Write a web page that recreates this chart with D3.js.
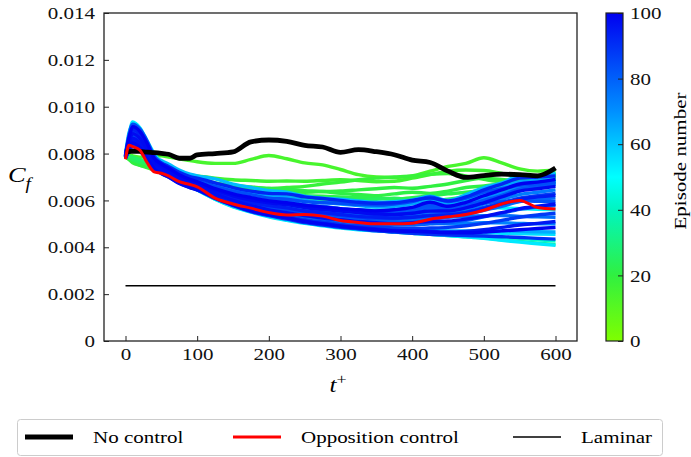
<!DOCTYPE html>
<html lang="en">
<head>
<meta charset="utf-8">
<title>Cf episodes</title>
<script src="https://cdn.jsdelivr.net/npm/d3@7"></script>
<style>
  body { margin: 0; background: #fff; }
</style>
</head>
<body>
<script>
// t+ sample points shared by every curve
var tPlus = [0,5,10,20,30,40,50,60,75,90,100,125,150,175,200,225,250,275,300,325,350,375,400,425,450,475,500,525,550,575,600];

// Cf values, in units of 1e-3
var noControl = [8.07,8.08,8.10,8.09,8.06,8.04,8.01,7.97,7.80,7.80,7.94,8.00,8.07,8.50,8.58,8.52,8.35,8.28,8.05,8.17,8.08,7.95,7.72,7.62,7.25,6.98,7.06,7.12,7.10,7.05,7.38];
var opposition = [7.76,8.35,8.30,8.15,7.62,7.22,7.16,7.05,6.80,6.68,6.58,6.10,5.85,5.67,5.48,5.38,5.40,5.33,5.14,5.06,5.00,5.00,5.03,5.20,5.30,5.40,5.58,5.85,6.00,5.70,5.63];
var laminarCf = 2.36;

var episodeNumbers = [14,16,18,20,21,22,24,26, 28,35,42,48,54, 62,66,70,74,78,80,84,88,90,92,95,98,100, 82,86,94,97,99, 56,65,58,73,77,52,83];
var episodeCf = [
  [7.95,7.95,7.90,7.85,7.85,7.88,7.90,7.85,7.78,7.70,7.65,7.58,7.58,7.75,7.92,7.78,7.60,7.52,7.32,7.10,7.00,6.98,7.05,7.25,7.45,7.58,7.82,7.60,7.35,7.25,7.30],
  [7.90,7.80,7.70,7.55,7.45,7.35,7.28,7.20,7.12,7.08,7.05,6.95,6.88,6.85,6.82,6.83,6.82,6.85,6.88,6.85,6.80,6.82,6.95,7.10,7.25,7.30,7.28,7.15,7.00,6.95,7.05],
  [7.85,7.75,7.65,7.50,7.40,7.30,7.20,7.10,6.95,6.85,6.78,6.70,6.60,6.55,6.50,6.55,6.60,6.70,6.78,6.88,6.95,7.00,7.05,7.12,7.15,7.05,6.90,6.80,6.85,6.95,7.10],
  [7.90,7.75,7.60,7.50,7.45,7.40,7.35,7.30,7.15,7.00,6.92,6.70,6.55,6.45,6.40,6.38,6.35,6.38,6.40,6.45,6.50,6.55,6.52,6.60,6.70,6.85,6.95,6.90,6.85,6.90,7.00],
  [7.95,7.85,7.75,7.60,7.55,7.50,7.45,7.40,7.20,7.05,6.95,6.75,6.65,6.58,6.52,6.48,6.42,6.38,6.30,6.25,6.20,6.28,6.35,6.30,6.40,6.55,6.62,6.70,6.80,6.90,7.05],
  [7.85,7.80,7.72,7.62,7.55,7.45,7.35,7.25,7.05,6.88,6.80,6.60,6.48,6.35,6.25,6.22,6.20,6.18,6.15,6.12,6.10,6.05,6.12,6.20,6.28,6.35,6.45,6.60,6.75,6.95,7.15],
  [7.90,7.82,7.75,7.65,7.55,7.40,7.25,7.12,6.95,6.80,6.70,6.50,6.35,6.25,6.15,6.08,6.02,6.00,5.98,6.00,6.05,6.10,6.00,5.95,6.05,6.15,6.25,6.40,6.55,6.75,6.90],
  [7.95,7.90,7.85,7.75,7.62,7.50,7.38,7.25,7.05,6.88,6.78,6.55,6.40,6.28,6.18,6.12,6.05,5.98,5.92,5.90,5.88,5.95,5.92,5.85,5.95,6.05,6.15,6.30,6.45,6.60,6.80],
  [7.90,8.40,8.60,8.30,7.90,7.55,7.35,7.15,6.90,6.70,6.55,6.25,6.05,5.92,5.82,5.75,5.68,5.62,5.58,5.55,5.50,5.45,5.50,5.55,5.65,5.80,6.00,6.30,6.60,6.90,7.20],
  [7.85,8.70,9.20,8.80,8.30,7.80,7.50,7.25,6.95,6.70,6.50,6.10,5.80,5.55,5.35,5.20,5.05,4.95,4.85,4.78,4.72,4.65,4.60,4.55,4.50,4.45,4.40,4.32,4.25,4.18,4.12],
  [7.80,8.60,9.30,9.00,8.50,7.90,7.55,7.25,6.90,6.62,6.45,6.05,5.75,5.52,5.32,5.18,5.05,4.98,4.90,4.82,4.78,4.72,4.68,4.62,4.58,4.52,4.48,4.42,4.38,4.32,4.28],
  [7.90,8.50,8.90,8.70,8.20,7.70,7.45,7.20,6.95,6.75,6.60,6.25,6.00,5.85,5.75,5.70,5.68,5.65,5.62,5.60,5.58,5.62,5.70,5.75,5.80,5.90,6.05,6.20,6.40,6.65,6.85],
  [7.85,8.80,9.35,9.10,8.55,8.00,7.60,7.30,6.95,6.65,6.45,6.05,5.72,5.50,5.30,5.15,5.02,4.92,4.82,4.75,4.70,4.65,4.60,4.55,4.50,4.45,4.38,4.30,4.22,4.15,4.08],
  [8.00,8.90,9.20,9.00,8.50,7.85,7.70,7.55,7.30,7.12,7.05,6.92,6.70,6.55,6.42,6.35,6.18,6.10,6.05,5.98,5.92,5.95,6.02,6.18,6.00,6.25,6.55,6.75,7.05,7.05,7.15],
  [7.95,8.70,9.00,8.80,8.30,7.70,7.55,7.40,7.15,6.98,6.90,6.70,6.50,6.35,6.22,6.15,6.00,5.92,5.85,5.78,5.72,5.75,5.85,6.05,5.85,6.00,6.30,6.55,6.80,6.85,6.95],
  [7.90,8.50,8.80,8.60,8.10,7.60,7.45,7.30,7.05,6.88,6.78,6.55,6.30,6.15,6.02,5.95,5.82,5.75,5.65,5.58,5.52,5.55,5.62,5.80,5.70,5.85,6.10,6.30,6.55,6.65,6.75],
  [7.85,8.30,8.60,8.40,7.95,7.50,7.35,7.20,6.95,6.78,6.68,6.40,6.15,5.98,5.85,5.75,5.62,5.55,5.45,5.38,5.32,5.35,5.40,5.50,5.50,5.62,5.85,6.05,6.25,6.35,6.45],
  [7.90,8.60,9.10,8.90,8.40,7.75,7.50,7.30,7.00,6.80,6.70,6.35,6.05,5.85,5.70,5.60,5.48,5.38,5.28,5.20,5.15,5.12,5.15,5.22,5.28,5.40,5.58,5.75,5.95,6.05,6.10],
  [7.80,8.20,8.40,8.20,7.85,7.45,7.28,7.12,6.88,6.70,6.60,6.28,5.98,5.75,5.58,5.45,5.32,5.22,5.12,5.05,4.98,4.95,4.95,5.00,5.05,5.15,5.30,5.45,5.62,5.72,5.78],
  [7.95,8.80,9.25,9.05,8.55,7.90,7.60,7.40,7.15,6.95,6.85,6.60,6.40,6.25,6.10,6.05,5.95,5.90,5.88,5.82,5.80,5.85,5.95,6.15,5.95,6.10,6.35,6.50,6.65,6.70,6.80],
  [7.85,8.40,8.70,8.50,8.00,7.55,7.38,7.22,6.92,6.72,6.62,6.25,5.92,5.68,5.48,5.32,5.18,5.08,4.98,4.92,4.88,4.82,4.80,4.82,4.85,4.92,5.02,5.15,5.28,5.38,5.45],
  [7.80,8.10,8.30,8.10,7.75,7.35,7.15,7.00,6.75,6.55,6.45,6.08,5.78,5.52,5.35,5.20,5.05,4.95,4.85,4.78,4.70,4.65,4.60,4.55,4.52,4.50,4.48,4.45,4.42,4.38,4.35],
  [7.90,8.60,9.00,8.85,8.35,7.80,7.60,7.45,7.20,7.02,6.95,6.75,6.55,6.40,6.30,6.28,6.15,6.08,6.00,5.92,5.88,5.90,6.00,6.10,5.98,6.15,6.45,6.70,6.95,7.00,7.05],
  [7.85,8.30,8.55,8.35,7.90,7.40,7.20,7.05,6.80,6.65,6.55,6.18,5.85,5.60,5.42,5.28,5.12,5.02,4.92,4.85,4.78,4.72,4.70,4.68,4.65,4.68,4.75,4.85,4.95,5.02,5.10],
  [7.90,8.50,8.85,8.65,8.20,7.65,7.45,7.28,7.00,6.82,6.72,6.45,6.20,6.02,5.90,5.82,5.70,5.62,5.55,5.48,5.42,5.40,5.45,5.55,5.55,5.68,5.90,6.15,6.40,6.50,6.60],
  [7.95,8.70,9.15,8.95,8.45,7.80,7.55,7.38,7.10,6.90,6.80,6.50,6.28,6.12,5.98,5.90,5.80,5.72,5.65,5.60,5.55,5.60,5.70,5.92,5.75,5.92,6.20,6.45,6.70,6.78,6.90],
  [7.90,8.55,8.95,8.75,8.25,7.70,7.50,7.35,7.08,6.90,6.82,6.52,6.22,6.05,5.92,5.85,5.75,5.68,5.60,5.55,5.48,5.48,5.55,5.70,5.62,5.78,6.00,6.22,6.48,6.58,6.68],
  [7.85,8.45,8.75,8.55,8.05,7.58,7.40,7.25,6.98,6.80,6.70,6.38,6.08,5.88,5.72,5.62,5.50,5.42,5.35,5.28,5.22,5.22,5.28,5.38,5.40,5.50,5.70,5.90,6.10,6.20,6.30],
  [7.90,8.65,9.05,8.85,8.35,7.75,7.52,7.35,7.05,6.85,6.75,6.42,6.12,5.92,5.78,5.68,5.55,5.48,5.40,5.32,5.28,5.25,5.28,5.35,5.38,5.48,5.65,5.85,6.05,6.15,6.22],
  [7.85,8.35,8.65,8.45,8.00,7.50,7.30,7.15,6.88,6.70,6.62,6.30,6.00,5.78,5.60,5.48,5.35,5.25,5.18,5.10,5.05,5.02,5.05,5.10,5.12,5.20,5.32,5.48,5.65,5.75,5.85],
  [7.80,8.20,8.45,8.25,7.80,7.35,7.15,7.00,6.72,6.55,6.45,6.10,5.80,5.55,5.38,5.25,5.10,5.00,4.90,4.82,4.75,4.70,4.68,4.65,4.62,4.62,4.65,4.70,4.75,4.80,4.85],
  [7.85,8.60,9.10,8.85,8.35,7.80,7.52,7.30,7.00,6.78,6.65,6.28,5.95,5.70,5.50,5.35,5.22,5.12,5.02,4.95,4.88,4.82,4.78,4.72,4.68,4.65,4.62,4.60,4.58,4.56,4.55],
  [7.80,8.25,8.50,8.30,7.85,7.40,7.22,7.08,6.82,6.62,6.52,6.15,5.85,5.62,5.45,5.32,5.18,5.08,4.98,4.90,4.84,4.78,4.75,4.72,4.70,4.70,4.72,4.70,4.68,4.66,4.65],
  [7.90,8.55,8.95,8.70,8.20,7.70,7.48,7.30,7.02,6.82,6.70,6.40,6.12,5.92,5.78,5.70,5.60,5.52,5.45,5.40,5.38,5.45,5.55,5.65,5.72,5.85,6.05,6.25,6.45,6.60,6.70],
  [7.85,8.40,8.70,8.50,8.05,7.55,7.35,7.18,6.90,6.72,6.62,6.30,6.00,5.78,5.62,5.50,5.38,5.28,5.18,5.10,5.05,5.02,5.00,5.02,5.00,5.02,5.05,5.05,5.02,5.00,5.00],
  [7.90,8.50,8.85,8.65,8.15,7.62,7.42,7.25,6.98,6.80,6.70,6.40,6.12,5.92,5.78,5.68,5.55,5.48,5.40,5.35,5.30,5.28,5.30,5.32,5.30,5.32,5.35,5.35,5.32,5.30,5.28],
  [7.85,8.45,8.80,8.60,8.10,7.60,7.40,7.22,6.95,6.75,6.65,6.35,6.08,5.90,5.78,5.70,5.62,5.58,5.55,5.52,5.50,5.52,5.58,5.62,5.62,5.65,5.70,5.68,5.65,5.62,5.60],
  [7.90,8.60,9.00,8.80,8.30,7.72,7.52,7.35,7.08,6.90,6.80,6.50,6.22,6.05,5.92,5.85,5.75,5.68,5.62,5.58,5.55,5.58,5.65,5.78,5.70,5.82,5.90,5.95,5.98,5.96,5.95]
];

var xTicks = [0,100,200,300,400,500,600];
var yTicks = [0,0.002,0.004,0.006,0.008,0.010,0.012,0.014];
var cbarTicks = [0,20,40,60,80,100];
var legendNames = ["No control", "Opposition control", "Laminar"];

var serif = "'Liberation Serif', 'Times New Roman', serif";
var wide = 1.2; // the figure's serif face is wider than Liberation Serif
var w = 691, h = 457;
var plotL = 104, plotR = 577, plotT = 13, plotB = 341;

var svg = d3.select("body").append("svg")
  .attr("width", w)
  .attr("height", h)
  .style("font-family", serif);

var x = d3.scaleLinear().domain([-30, 630]).range([plotL, plotR]);
var y = d3.scaleLinear().domain([0, 0.014]).range([plotB, plotT]);
var color = d3.scaleLinear()
  .domain([0, 20, 40, 50, 70, 100])
  .range(["#7fff00", "#30f040", "#00f5c0", "#00ffff", "#0090ff", "#0000f0"]);

function toPairs(vals) {
  return tPlus.map(function(t, i) { return [t, vals[i] / 1000]; });
}

var line = d3.line()
  .x(function(d) { return x(d[0]); })
  .y(function(d) { return y(d[1]); })
  .curve(d3.curveMonotoneX);

// episode curves, drawn from first to last episode so late ones lie on top
var order = d3.range(episodeCf.length).sort(function(a, b) {
  return episodeNumbers[a] - episodeNumbers[b];
});

svg.append("g").selectAll(".episode")
  .data(order)
  .enter()
  .append("path")
  .attr("class", "episode")
  .attr("fill", "none")
  .attr("stroke", function(k) { return color(episodeNumbers[k]); })
  .attr("stroke-width", 3.4)
  .attr("d", function(k) { return line(toPairs(episodeCf[k])); });

svg.append("path")
  .attr("fill", "none")
  .attr("stroke", "#000")
  .attr("stroke-width", 4.8)
  .attr("d", line(toPairs(noControl)));

svg.append("path")
  .attr("fill", "none")
  .attr("stroke", "#ff0000")
  .attr("stroke-width", 3)
  .attr("d", line(toPairs(opposition)));

svg.append("path")
  .attr("fill", "none")
  .attr("stroke", "#000")
  .attr("stroke-width", 1.5)
  .attr("d", line([[0, laminarCf / 1000], [600, laminarCf / 1000]]));

// axes, ticks pointing inwards
function styleAxis(g) {
  g.select(".domain").remove();
  g.attr("font-family", serif).attr("font-size", 17.5);
  g.selectAll("line").attr("stroke", "#222");
  g.selectAll("text")
    .style("font-family", serif)
    .style("font-size", "17.5px")
    .attr("fill", "#111")
    .attr("x", function() { return (+this.getAttribute("x") || 0) / wide; })
    .attr("transform", "scale(" + wide + ",1)");
}

svg.append("g")
  .attr("transform", "translate(0," + plotB + ")")
  .call(d3.axisBottom(x).tickValues(xTicks).tickSizeInner(-5).tickSizeOuter(0).tickPadding(7))
  .call(styleAxis);

svg.append("g")
  .attr("transform", "translate(" + plotL + ",0)")
  .call(d3.axisLeft(y).tickValues(yTicks).tickSizeInner(-5).tickSizeOuter(0).tickPadding(9)
    .tickFormat(function(d) { return d === 0 ? "0" : d3.format(".3f")(d); }))
  .call(styleAxis);

svg.append("rect")
  .attr("x", plotL)
  .attr("y", plotT)
  .attr("width", plotR - plotL)
  .attr("height", plotB - plotT)
  .attr("fill", "none")
  .attr("stroke", "#222")
  .attr("stroke-width", 1.3);

// axis titles
var cf = svg.append("text")
  .attr("transform", "translate(8,182) scale(" + wide + ",1)")
  .style("font-family", serif)
  .style("font-size", "22px")
  .style("font-style", "italic");
cf.append("tspan").text("C");
cf.append("tspan").attr("dy", 7).style("font-size", "16px").text("f");

var tl = svg.append("text")
  .attr("transform", "translate(338,392) scale(" + wide + ",1)")
  .attr("text-anchor", "middle")
  .style("font-family", serif)
  .style("font-size", "21px");
tl.append("tspan").style("font-style", "italic").text("t");
tl.append("tspan").attr("dy", -8).style("font-size", "15px").text("+");

// colorbar
var cbX = 606, cbW = 17;
var yc = d3.scaleLinear().domain([0, 100]).range([plotB, plotT]);

var grad = svg.append("defs").append("linearGradient")
  .attr("id", "cbar")
  .attr("x1", 0).attr("y1", 1)
  .attr("x2", 0).attr("y2", 0);
grad.selectAll("stop")
  .data(d3.range(0, 101, 5))
  .enter()
  .append("stop")
  .attr("offset", function(d) { return d + "%"; })
  .attr("stop-color", function(d) { return color(d); });

svg.append("rect")
  .attr("x", cbX)
  .attr("y", plotT)
  .attr("width", cbW)
  .attr("height", plotB - plotT)
  .attr("fill", "url(#cbar)")
  .attr("stroke", "#222")
  .attr("stroke-width", 1.2);

svg.append("g")
  .attr("transform", "translate(" + (cbX + cbW) + ",0)")
  .call(d3.axisRight(yc).tickValues(cbarTicks).tickSizeInner(-5).tickSizeOuter(0).tickPadding(7))
  .call(styleAxis);

svg.append("text")
  .attr("transform", "translate(686,161) rotate(-90) scale(" + wide + ",1)")
  .attr("text-anchor", "middle")
  .style("font-family", serif)
  .style("font-size", "17.5px")
  .text("Episode number");

// legend
var legend = svg.append("g");
legend.append("rect")
  .attr("x", 17.5)
  .attr("y", 419.5)
  .attr("width", 645)
  .attr("height", 36)
  .attr("rx", 3)
  .attr("fill", "#fff")
  .attr("stroke", "#ccc");

var legendX = [25, 233, 513];
var legendStroke = ["#000", "#ff0000", "#000"];
var legendWidth = [4.8, 3, 1.5];

var item = legend.selectAll(".item")
  .data(legendNames)
  .enter()
  .append("g")
  .attr("class", "item");

item.append("line")
  .attr("x1", function(d, i) { return legendX[i]; })
  .attr("x2", function(d, i) { return legendX[i] + 48; })
  .attr("y1", 437)
  .attr("y2", 437)
  .attr("stroke", function(d, i) { return legendStroke[i]; })
  .attr("stroke-width", function(d, i) { return legendWidth[i]; });

item.append("text")
  .attr("transform", function(d, i) { return "translate(" + (legendX[i] + 68) + ",443) scale(" + wide + ",1)"; })
  .style("font-family", serif)
  .style("font-size", "17.5px")
  .text(function(d) { return d; });
</script>
</body>
</html>
